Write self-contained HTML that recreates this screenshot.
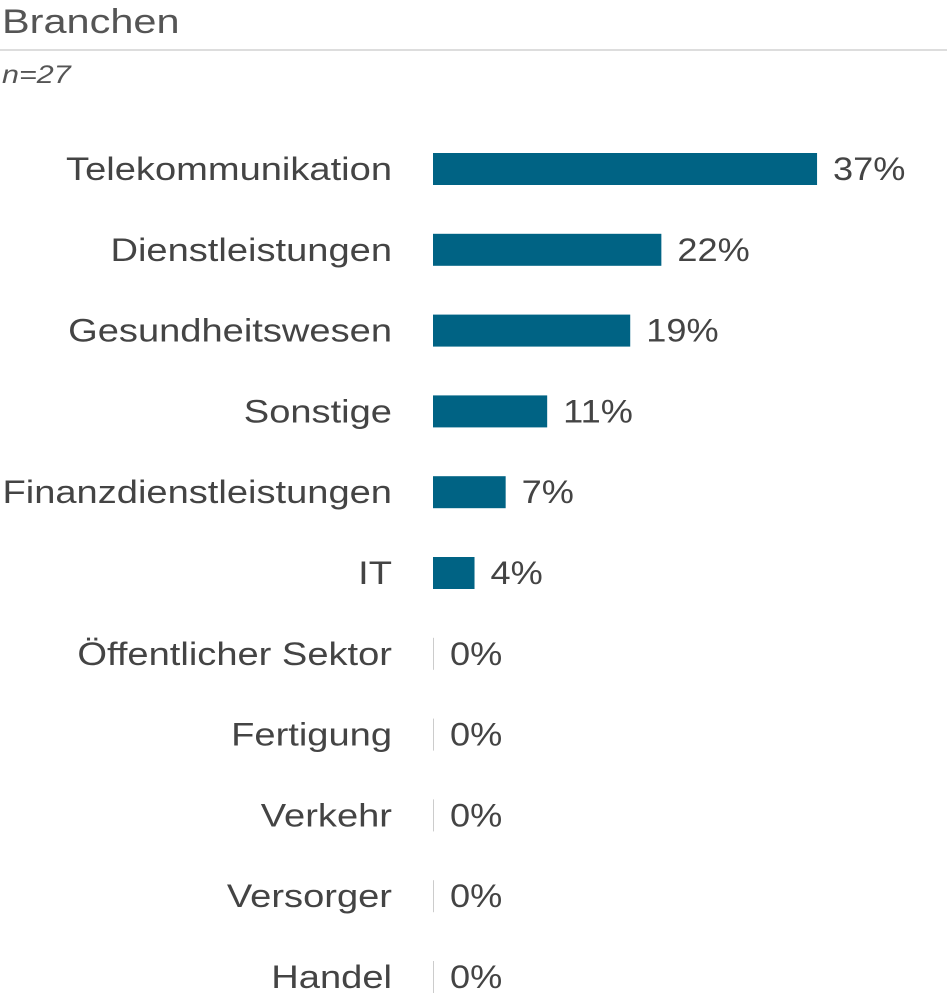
<!DOCTYPE html>
<html><head><meta charset="utf-8"><style>
body{margin:0;width:947px;height:1000px;background:#fff;font-family:"Liberation Sans",sans-serif;color:#444;overflow:hidden;position:relative}
#title{position:absolute;left:2px;top:3px;font-size:34px;color:#555;transform:scaleX(1.22);transform-origin:0 0;white-space:nowrap}
#rule{position:absolute;left:0;top:49px;width:947px;height:2px;background:#ddd}
#n{position:absolute;left:2px;top:61px;font-size:25px;font-style:italic;color:#555;transform:scaleX(1.22);transform-origin:0 0;white-space:nowrap}
</style></head><body>
<div id="title">Branchen</div>
<div id="rule"></div>
<div id="n">n=27</div>
<svg id="chart" width="947" height="1000" style="position:absolute;left:0;top:0"></svg>
<script>
const categories=["Telekommunikation","Dienstleistungen","Gesundheitswesen","Sonstige","Finanzdienstleistungen","IT","Öffentlicher Sektor","Fertigung","Verkehr","Versorger","Handel"];
const values=[37,22,19,11,7,4,0,0,0,0,0];
const labels=["37%","22%","19%","11%","7%","4%","0%","0%","0%","0%","0%"];
const svg=document.getElementById('chart');
const NS="http://www.w3.org/2000/svg";
const x0=433,pxPer=10.38;
const xScale=v=>v*pxPer;
const yCenter=i=>169+i*80.8;
function stretch(t,f){const L=t.getComputedTextLength();t.setAttribute('textLength',L*f);t.setAttribute('lengthAdjust','spacingAndGlyphs');}
categories.forEach((c,i)=>{
  const y=yCenter(i);
  const t=document.createElementNS(NS,'text');
  
  
  t.setAttribute('x',392);t.setAttribute('y',y+11);t.setAttribute('text-anchor','end');
  t.setAttribute('font-size','32');t.setAttribute('fill','#444');t.textContent=c;svg.appendChild(t);
  stretch(t,1.19);
  const w=xScale(values[i]);
  const r=document.createElementNS(NS,'rect');
  
  
  if(w>0){r.setAttribute('x',x0);r.setAttribute('width',w);r.setAttribute('fill','#006384');}
  else{r.setAttribute('x',x0);r.setAttribute('width',1);r.setAttribute('fill','#ccc');}
  r.setAttribute('y',y-16);r.setAttribute('height',32);svg.appendChild(r);
  const v=document.createElementNS(NS,'text');
  
  
  v.setAttribute('x',x0+Math.max(w,1)+16);v.setAttribute('y',y+11);
  v.setAttribute('font-size','32');v.setAttribute('fill','#444');v.textContent=labels[i];svg.appendChild(v);
  stretch(v,1.13);
});
</script>
</body></html>
